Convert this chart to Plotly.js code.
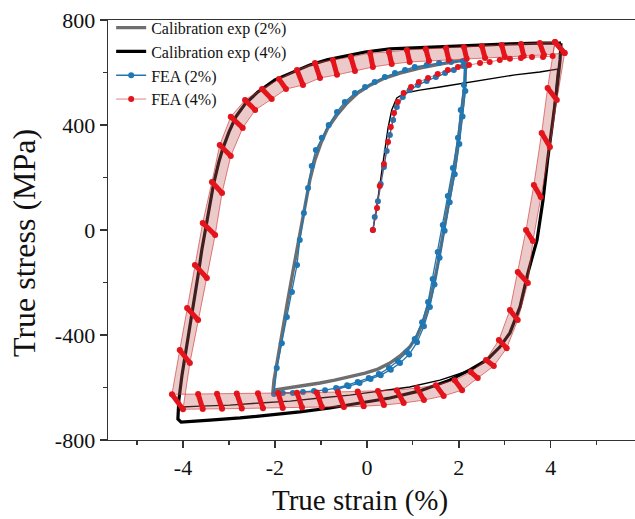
<!DOCTYPE html>
<html><head><meta charset="utf-8">
<script src="https://cdn.plot.ly/plotly-3.0.1.min.js"></script>
<style>html,body{margin:0;padding:0;background:#fff}#chart{width:635px;height:519px}</style>
</head><body><div id="chart"></div>
<script>
// ---- Calibration exp (2%) ----
const exp2Strain = [2.15,2.13,2.07,2.00,1.91,1.80,1.70,1.59,1.48,1.37,1.24,1.09,0.93,0.72,0.50,0.24,-0.04,-0.37,-0.70,-1.02,-1.35,-1.67,-1.96,-2.04,-2.02,-1.93,-1.83,-1.72,-1.61,-1.50,-1.41,-1.33,-1.24,-1.13,-1.00,-0.85,-0.65,-0.43,-0.20,0.07,0.39,0.72,1.15,1.59,2.15];
const exp2Stress = [648,552,457,351,236,130,19,-84,-187,-267,-343,-404,-446,-480,-507,-530,-545,-560,-572,-583,-591,-598,-606,-610,-572,-476,-373,-267,-160,-57,30,114,191,267,331,389,438,484,522,552,579,598,617,632,648];

// ---- Calibration exp (4%) : stabilised loops ----
const exp4Strain = [4.22,4.20,4.13,4.04,3.93,3.83,3.70,3.50,3.33,3.11,2.89,2.61,2.24,1.80,1.15,0.50,-0.15,-0.80,-1.46,-2.11,-2.76,-3.41,-3.85,-4.04,-4.11,-4.09,-4.02,-3.93,-3.85,-3.76,-3.67,-3.59,-3.50,-3.41,-3.33,-3.22,-3.13,-3.00,-2.85,-2.65,-2.37,-2.00,-1.61,-1.24,-0.87,-0.48,-0.04,0.50,1.37,2.24,3.11,3.76,4.22];
const exp4Stress = [712,648,533,419,267,114,-38,-164,-293,-392,-446,-495,-533,-572,-613,-640,-659,-678,-693,-705,-716,-724,-728,-732,-720,-648,-552,-457,-362,-267,-171,-76,11,95,179,259,312,373,431,480,526,572,602,629,648,663,678,690,697,705,709,712,712];
// ---- Calibration exp (4%) : initial loading and first reversal ----
const exp4FirstStrain = [0.13,0.20,0.26,0.33,0.39,0.46,0.54,0.65,0.83,1.15,1.59,2.13,2.67,3.22,3.76,4.15,4.04,3.93,3.83,3.70,3.50,3.33,3.11,2.89,2.57,2.13,1.59,0.93,0.28,-0.37,-1.02,-1.67,-2.33,-2.98,-3.63,-4.02,-4.11,-4.09];
const exp4FirstStress = [0,69,145,229,312,389,457,503,522,533,545,560,575,591,602,613,419,267,114,-38,-164,-293,-392,-446,-503,-541,-572,-598,-613,-629,-640,-652,-659,-667,-671,-674,-667,-629];

// ---- FEA (2%) ----
const fea2InitStrain = [0.13,0.17,0.24,0.30,0.37,0.43,0.50,0.57,0.65,0.78,0.93,1.11,1.30,1.50,1.70,1.89,2.09];
const fea2InitStress = [0,50,110,175,240,301,362,419,469,507,533,552,568,583,598,610,625];
const fea2LoopStrain = [2.13,2.11,2.04,1.98,1.87,1.76,1.65,1.54,1.43,1.33,1.20,1.04,0.87,0.67,0.48,0.26,0.04,-0.20,-0.43,-0.67,-0.91,-1.15,-1.39,-1.61,-1.83,-2.02,-1.96,-1.85,-1.74,-1.63,-1.52,-1.46,-1.37,-1.28,-1.20,-1.11,-0.98,-0.83,-0.65,-0.48,-0.26,-0.04,0.17,0.39,0.61,0.83,1.04,1.30,1.57,1.83,2.09];
const fea2LoopStress = [640,552,457,351,236,130,19,-84,-187,-274,-351,-415,-465,-499,-526,-549,-564,-579,-591,-602,-610,-613,-617,-621,-621,-625,-526,-431,-331,-236,-133,-38,65,160,244,305,351,400,450,488,522,545,564,583,598,610,621,629,636,640,644];
const fea2Cyc2Strain = [2.15,2.14,2.08,2.01,1.91,1.80,1.69,1.58,1.47,1.37,1.24,1.09,0.92,0.72,0.52,0.30,0.08,-0.16,-0.40,-0.64];
const fea2Cyc2Stress = [625,530,432,328,212,106,-3,-106,-208,-293,-367,-428,-474,-507,-532,-553,-568,-583,-595,-606];

// ---- FEA (4%) ----
const fea4InitStrain = [0.13,0.22,0.28,0.37,0.46,0.52,0.59,0.67,0.80,0.96,1.13,1.33,1.54,1.76,1.98,2.22,2.46,2.67,2.89,3.11,3.35,3.59,3.83,4.04];
const fea4InitStress = [0,84,168,251,335,392,446,488,522,545,564,579,594,610,621,629,636,640,648,652,655,659,659,663];
const fea4CycAStrain = [4.09,3.93,3.80,3.63,3.46,3.28,3.11,2.87,2.59,2.26,1.91,1.50,1.09,0.65,0.24,-0.20,-0.63,-1.09,-1.52,-1.93,-2.37,-2.83,-3.26,-3.67,-4.24,-4.07,-3.91,-3.74,-3.57,-3.37,-3.20,-2.96,-2.65,-2.28,-1.91,-1.52,-1.13,-0.74,-0.35,0.07,0.48,0.87,1.28,1.72,2.11,2.50,2.93,3.35,3.76,4.09];
const fea4CycAStress = [716,541,370,171,0,-160,-305,-419,-495,-541,-572,-591,-602,-610,-613,-615,-617,-619,-620,-621,-622,-623,-624,-625,-626,-457,-297,-133,27,183,324,431,495,537,575,610,636,648,659,674,678,686,690,693,697,701,705,709,712,716];
const fea4CycBStrain = [4.30,4.13,3.98,3.78,3.61,3.50,3.28,3.04,2.76,2.41,2.07,1.67,1.24,0.80,0.37,-0.07,-0.50,-0.98,-1.41,-1.83,-2.26,-2.72,-3.15,-3.57,-4.00,-3.85,-3.67,-3.48,-3.30,-3.15,-2.96,-2.70,-2.43,-2.07,-1.76,-1.39,-1.02,-0.65,-0.26,0.13,0.54,0.93,1.35,1.78,2.17,2.57,3.00,3.41,3.85,4.30];
const fea4CycBStress = [674,495,316,126,-42,-202,-343,-450,-518,-564,-610,-632,-648,-659,-667,-671,-674,-674,-676,-678,-679,-680,-681,-682,-683,-507,-343,-183,-19,141,282,389,457,499,537,552,579,591,606,621,632,640,644,648,652,655,659,663,667,674];

// ---- axes ----
const xTickVals = [-4,-2,0,2,4];
const xTickText = ['-4','-2','0','2','4'];
const yTickVals = [-800,-400,0,400,800];
const yTickText = ['-800','-400','0','400','800'];
const xTitle = 'True strain (%)';
const yTitle = 'True stress (MPa)';

const serif = '"Liberation Serif", "Times New Roman", serif';

// dash segments joining matching steps of the two FEA (4%) cycles
const segX = [], segY = [];
for (let i = 0; i < fea4CycAStrain.length; i++) {
  segX.push(fea4CycAStrain[i], fea4CycBStrain[i], null);
  segY.push(fea4CycAStress[i], fea4CycBStress[i], null);
}
const bandX = fea4CycAStrain.concat(fea4CycBStrain.slice().reverse());
const bandY = fea4CycAStress.concat(fea4CycBStress.slice().reverse());

const traces = [
  {x: exp2Strain, y: exp2Stress, mode: 'lines', name: 'Calibration exp (2%)',
   line: {color: '#6e6e6e', width: 3.4}},
  {x: exp4Strain, y: exp4Stress, mode: 'lines', name: 'Calibration exp (4%)',
   line: {color: '#000000', width: 3.2}},
  {x: exp4FirstStrain, y: exp4FirstStress, mode: 'lines', showlegend: false,
   line: {color: '#000000', width: 1.4}},
  {x: fea2InitStrain.concat(fea2LoopStrain, fea2Cyc2Strain), y: fea2InitStress.concat(fea2LoopStress, fea2Cyc2Stress),
   mode: 'lines+markers', name: 'FEA (2%)',
   line: {color: '#1f77b4', width: 1.3}, marker: {color: '#1f77b4', size: 6}},
  {x: bandX, y: bandY, mode: 'lines', fill: 'toself', fillcolor: 'rgba(200,95,95,0.33)',
   line: {width: 0}, showlegend: false, hoverinfo: 'skip'},
  {x: fea4InitStrain.concat(fea4CycAStrain, fea4CycBStrain), y: fea4InitStress.concat(fea4CycAStress, fea4CycBStress),
   mode: 'lines+markers', name: 'FEA (4%)',
   line: {color: 'rgba(205,45,45,0.6)', width: 1}, marker: {color: '#e3141b', size: 6}},
  {x: segX, y: segY, mode: 'lines', showlegend: false, connectgaps: false,
   line: {color: '#e3141b', width: 5}, hoverinfo: 'skip'}
];

const layout = {
  width: 635, height: 519,
  margin: {l: 108, r: 0, t: 20, b: 79},
  paper_bgcolor: '#fff', plot_bgcolor: '#fff',
  showlegend: true,
  legend: {x: 0.006, y: 1.022, xanchor: 'left', yanchor: 'top', bgcolor: 'rgba(0,0,0,0)',
           font: {family: serif, size: 16, color: '#111'}, itemwidth: 30, tracegroupgap: 0},
  xaxis: {range: [-5.63, 5.83], showgrid: false, zeroline: false,
          tickmode: 'array', tickvals: xTickVals, ticktext: xTickText,
          ticks: 'outside', ticklen: 7, tickwidth: 1.3, tickcolor: '#333',
          minor: {dtick: 1, tick0: 1, ticks: 'outside', ticklen: 4, tickwidth: 1.2, tickcolor: '#333'},
          showline: true, linecolor: '#333', linewidth: 1.4, mirror: true,
          tickfont: {family: serif, size: 22, color: '#111'}},
  yaxis: {range: [-800, 800], showgrid: false, zeroline: false,
          tickmode: 'array', tickvals: yTickVals, ticktext: yTickText,
          ticks: 'outside', ticklen: 7, tickwidth: 1.3, tickcolor: '#333',
          minor: {dtick: 200, tick0: 200, ticks: 'outside', ticklen: 4, tickwidth: 1.2, tickcolor: '#333'},
          showline: true, linecolor: '#333', linewidth: 1.4, mirror: false,
          tickfont: {family: serif, size: 22, color: '#111'}},
  annotations: [
    {text: xTitle, xref: 'paper', yref: 'paper', x: (360 - 108) / 527, y: -(500 - 440) / 420,
     xanchor: 'center', yanchor: 'middle', showarrow: false,
     font: {family: serif, size: 29, color: '#111'}},
    {text: yTitle, xref: 'paper', yref: 'paper', x: -(108 - 24) / 527, y: (440 - 243) / 420,
     xanchor: 'center', yanchor: 'middle', showarrow: false, textangle: -90,
     font: {family: serif, size: 32, color: '#111'}}
  ]
};

Plotly.newPlot('chart', traces, layout, {displayModeBar: false, staticPlot: true});
</script></body></html>
